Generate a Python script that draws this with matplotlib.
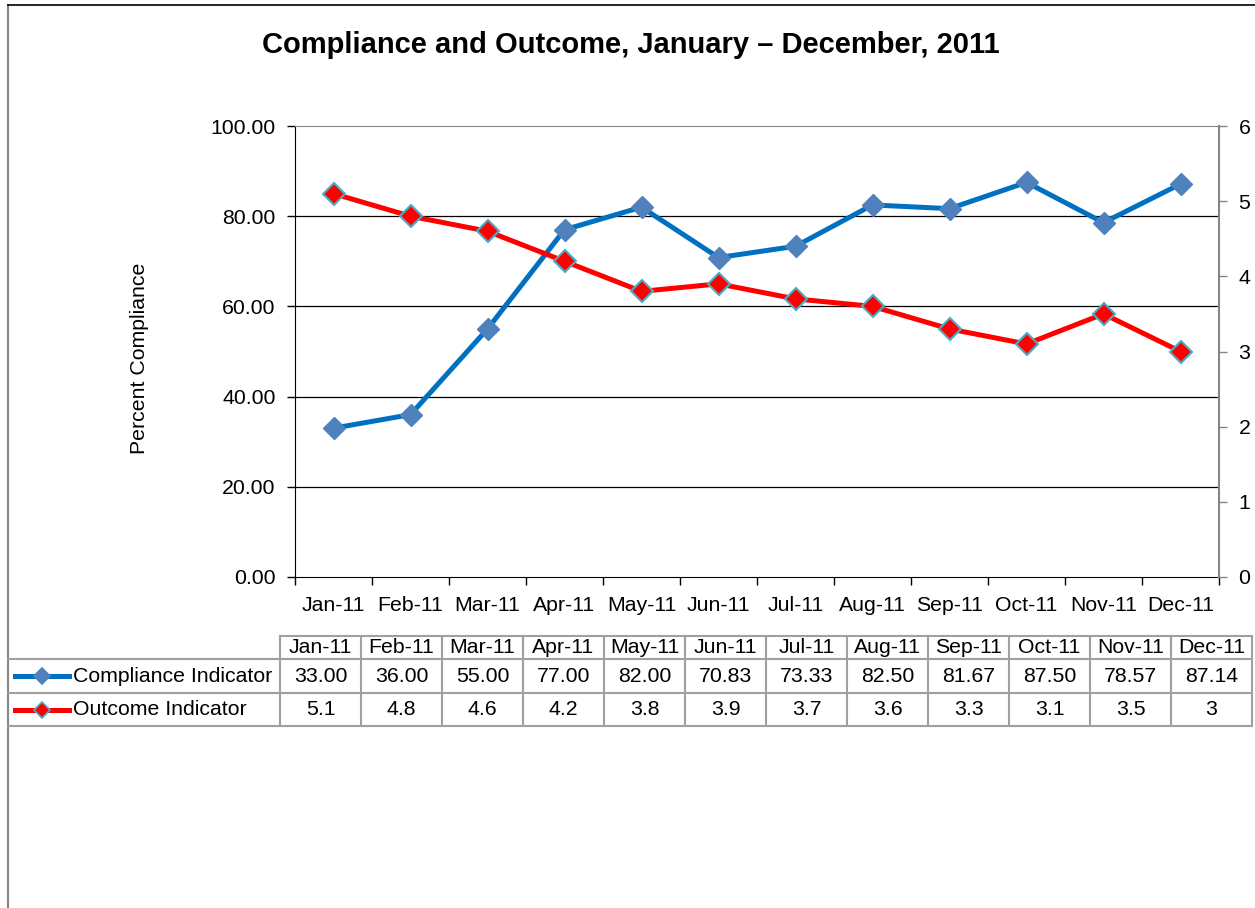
import numpy as np
import matplotlib
matplotlib.use("Agg")
import matplotlib.pyplot as plt
from matplotlib.lines import Line2D

plt.rcParams['font.family'] = ['Liberation Sans', 'DejaVu Sans']

# --- data ---
months = ['Jan-11', 'Feb-11', 'Mar-11', 'Apr-11', 'May-11', 'Jun-11',
          'Jul-11', 'Aug-11', 'Sep-11', 'Oct-11', 'Nov-11', 'Dec-11']
compliance = [33.00, 36.00, 55.00, 77.00, 82.00, 70.83,
              73.33, 82.50, 81.67, 87.50, 78.57, 87.14]
outcome = [5.1, 4.8, 4.6, 4.2, 3.8, 3.9, 3.7, 3.6, 3.3, 3.1, 3.5, 3]
compliance_labels = [f'{v:.2f}' for v in compliance]
outcome_labels = [f'{v:g}' for v in outcome]

W, H = 1255, 908
FS = 15.3
fig = plt.figure(figsize=(W / 100, H / 100), dpi=100)


def fx(px):
    return px / W


def fy(py):
    return 1 - py / H


BLUE = '#0070C0'
BLUE_MK = '#4F81BD'
RED = '#FF0000'
RED_EDGE = '#4BACC6'
GRAY = '#868686'

# outer chart frame
fig.add_artist(Line2D([fx(8), fx(8)], [fy(5), fy(908)], color=GRAY, lw=1.5))
fig.add_artist(Line2D([fx(8), fx(1255)], [fy(5), fy(5)], color='black', lw=1.2))

fig.text(fx(631), fy(45), 'Compliance and Outcome, January \u2013 December, 2011',
         ha='center', va='center', fontsize=21, fontweight='bold')

# --- plot area ---
ax = fig.add_axes([fx(295), fy(577), fx(1219 - 295), (577 - 126) / H])
x = np.arange(len(months))
ax.plot(x, compliance, color=BLUE, lw=3.6, marker='D', markersize=11,
        markerfacecolor=BLUE_MK, markeredgecolor=BLUE_MK, zorder=3)
ax.set_xlim(-0.5, len(months) - 0.5)
ax.set_ylim(0, 100)
ax.set_yticks(np.arange(0, 101, 20))
ax.set_yticklabels([f'{v:.2f}' for v in np.arange(0, 101, 20)], fontsize=FS)
ax.set_xticks(x)
ax.set_xticklabels(months, fontsize=FS)
ax.set_xticks(np.arange(-0.5, len(months), 1), minor=True)
ax.tick_params(axis='x', which='major', length=0, pad=14)
ax.tick_params(axis='x', which='minor', length=6, width=1, color='black')
ax.tick_params(axis='y', length=6, width=1, pad=8)
for v in [20, 40, 60, 80]:
    ax.axhline(v, color='black', lw=0.9, zorder=1)
ax.spines['left'].set_color('black')
ax.spines['bottom'].set_color('black')
ax.spines['top'].set_color(GRAY)
ax.spines['right'].set_visible(False)
ax.set_ylabel('Percent Compliance', fontsize=FS, va='center')
ax.yaxis.set_label_coords(-0.168, 0.486)

ax2 = ax.twinx()
ax2.plot(x, outcome, color=RED, lw=3.6, marker='D', markersize=11,
         markerfacecolor=RED, markeredgecolor=RED_EDGE, markeredgewidth=1.5, zorder=3)
ax2.set_ylim(0, 6)
ax2.set_yticks(range(0, 7))
ax2.tick_params(axis='y', labelsize=FS, length=6, width=1, color=GRAY, pad=8)
for s in ['left', 'top', 'bottom']:
    ax2.spines[s].set_visible(False)
ax2.spines['right'].set_color(GRAY)
ax2.spines['right'].set_linewidth(1.5)

# --- data table ---
TB = '#A0A0A0'
col0 = 280
cw = 81
rows = [636, 659, 693, 726]
ncol = len(months)
right = col0 + cw * ncol
fig.add_artist(Line2D([fx(col0), fx(right)], [fy(rows[0])] * 2, color=TB, lw=1.5))
for r in rows[1:]:
    fig.add_artist(Line2D([fx(8), fx(right)], [fy(r)] * 2, color=TB, lw=1.5))
for i in range(ncol + 1):
    xx = col0 + cw * i
    fig.add_artist(Line2D([fx(xx), fx(xx)], [fy(rows[0]), fy(rows[3])], color=TB, lw=1.5))

for i, m in enumerate(months):
    cx = col0 + cw * (i + 0.5)
    fig.text(fx(cx), fy((rows[0] + rows[1]) / 2), m, ha='center', va='center', fontsize=FS)
    fig.text(fx(cx), fy((rows[1] + rows[2]) / 2), compliance_labels[i], ha='center', va='center', fontsize=FS)
    fig.text(fx(cx), fy((rows[2] + rows[3]) / 2), outcome_labels[i], ha='center', va='center', fontsize=FS)

# legend keys in row headers
for (r0, r1), name, lc, fc, ec in [((rows[1], rows[2]), 'Compliance Indicator', BLUE, BLUE_MK, BLUE_MK),
                                   ((rows[2], rows[3]), 'Outcome Indicator', RED, RED, RED_EDGE)]:
    ym = fy((r0 + r1) / 2)
    fig.add_artist(Line2D([fx(15), fx(69)], [ym, ym], color=lc, lw=3.6))
    fig.add_artist(Line2D([fx(42)], [ym], marker='D', markersize=8, color=fc,
                          markerfacecolor=fc, markeredgecolor=ec, markeredgewidth=1.2))
    fig.text(fx(73), ym, name, ha='left', va='center', fontsize=FS)

fig.savefig('out.png', dpi=100)
